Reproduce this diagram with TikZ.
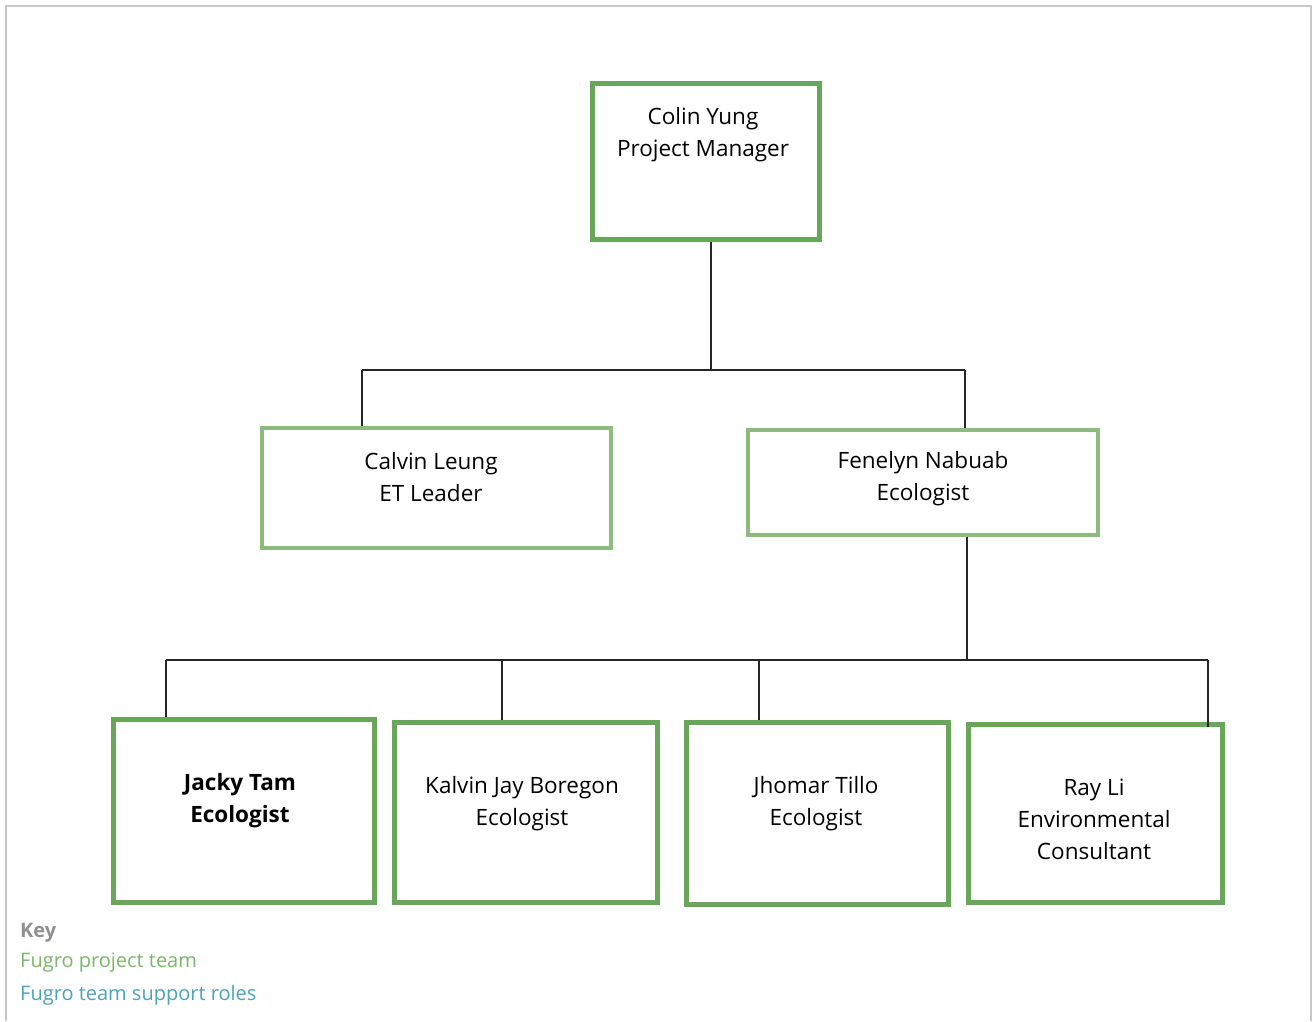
\documentclass[tikz,border=0pt]{standalone}
\usepackage{fontspec}
\setmainfont{Open Sans}
\definecolor{teamdark}{HTML}{6AA55C}
\definecolor{teamlight}{HTML}{8DBB7E}
\definecolor{keygreen}{HTML}{7AB868}
\definecolor{keyteal}{HTML}{4BA3B8}
\definecolor{keygrey}{HTML}{909090}
\definecolor{framegrey}{HTML}{C8C8C8}

\begin{document}
\begin{tikzpicture}[x=1pt,y=-1pt,
  every path/.style={line join=miter},
  lead/.style={draw=teamdark,line width=5pt,rectangle,inner sep=0pt},
  member/.style={draw=teamlight,line width=4pt,rectangle,inner sep=0pt},
  persontext/.style={align=center,inner sep=0pt,font=\fontsize{22.5}{32}\selectfont},
  keytext/.style={anchor=west,inner sep=0pt,font=\fontsize{20}{22}\selectfont},
  wire/.style={draw=black!85,line width=1.5pt}]
\useasboundingbox (0,0) rectangle (1314,1021);
\draw[framegrey,line width=2pt] (6,1021) -- (6,6) -- (1311,6) -- (1311,1021);

% boxes
\node[lead,minimum width=227,minimum height=156]   (colin)   at (706,161.5)  {};
\node[member,minimum width=349,minimum height=120] (calvin)  at (436.5,488)  {};
\node[member,minimum width=350,minimum height=105] (fenelyn) at (923,482.5)  {};
\node[lead,minimum width=261,minimum height=183]   (jacky)   at (244,811)    {};
\node[lead,minimum width=263,minimum height=180]   (kalvin)  at (526,812.5)  {};
\node[lead,minimum width=262,minimum height=182]   (jhomar)  at (817.5,813.5){};
\node[lead,minimum width=254,minimum height=178]   (ray)     at (1095.5,813.5){};

% names
\node[persontext] (colin-t)   at (703,135)    {Colin Yung\\Project Manager};
\node[persontext] (calvin-t)  at (431,477)    {Calvin Leung\\ET Leader};
\node[persontext] (fenelyn-t) at (923,479)    {Fenelyn Nabuab\\Ecologist};
\node[persontext,font=\fontsize{22.5}{32}\selectfont\bfseries] (jacky-t) at (240,801) {Jacky Tam\\Ecologist};
\node[persontext] (kalvin-t)  at (522,804)    {Kalvin Jay Boregon\\Ecologist};
\node[persontext] (jhomar-t)  at (816,804)    {Jhomar Tillo\\Ecologist};
\node[persontext] (ray-t)     at (1094,819)   {Ray Li\\Environmental\\Consultant};

% connectors
\coordinate (top)  at (711,370);
\coordinate (topL) at (362,370);
\coordinate (topR) at (965,370);
\coordinate (low)  at (967,660);
\coordinate (lowA) at (166,660);
\coordinate (lowB) at (502,660);
\coordinate (lowC) at (759,660);
\coordinate (lowD) at (1208,660);
\draw[wire] (colin.south -| top) -- (top);
\draw[wire] (topL) -- (topR);
\draw[wire] (topL) -- (topL |- calvin.north);
\draw[wire] (topR) -- (topR |- fenelyn.north);
\draw[wire] (fenelyn.south -| low) -- (low);
\draw[wire] (lowA) -- (lowD);
\draw[wire] (lowA) -- (lowA |- jacky.north);
\draw[wire] (lowB) -- (lowB |- kalvin.north);
\draw[wire] (lowC) -- (lowC |- jhomar.north);
\draw[wire] (lowD) -- ([yshift=-5pt]lowD |- ray.north);

% key
\node[keytext,text=keygrey,font=\fontsize{20}{22}\selectfont\bfseries] (key)  at (20,933) {Key};
\node[keytext,text=keygreen] (key-team)    at (20,963) {Fugro project team};
\node[keytext,text=keyteal]  (key-support) at (20,995) {Fugro team support roles};
\end{tikzpicture}
\end{document}
